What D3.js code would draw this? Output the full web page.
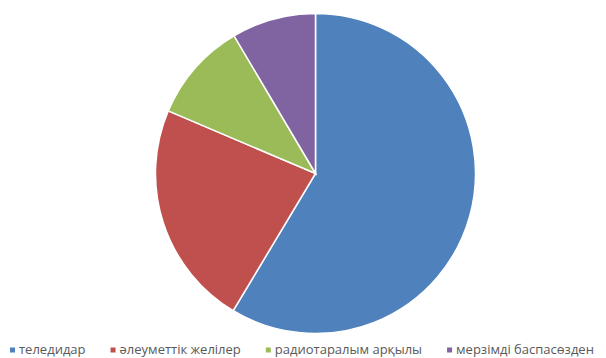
<!DOCTYPE html>
<html lang="kk">
<head>
<meta charset="UTF-8">
<title>Pie</title>
<script src="https://d3js.org/d3.v7.min.js"></script>
<style>
  html, body { margin: 0; padding: 0; background: #fff; }
  svg { display: block; }
  .legend text { font-family: "Open Sans", sans-serif; font-size: 13px; fill: #595959; }
</style>
</head>
<body>
<svg id="chart" width="606" height="358"></svg>
<script>
const categories = ["теледидар", "әлеуметтік желілер", "радиотаралым арқылы", "мерзімді баспасөзден"];
const values = [58.6, 22.8, 10.1, 8.5];
const colors = ["#4F81BD", "#C0504D", "#9BBB59", "#8064A2"];

const svg = d3.select("#chart");
const cx = 315.5, cy = 173.5, radius = 160;

const pie = d3.pie().sort(null).value(d => d.value);
const arc = d3.arc().innerRadius(0).outerRadius(radius);
const rows = categories.map((c, i) => ({ name: c, value: values[i], color: colors[i] }));

svg.append("g")
   .attr("transform", `translate(${cx},${cy})`)
   .selectAll("path")
   .data(pie(rows))
   .join("path")
   .attr("d", arc)
   .attr("fill", d => d.data.color)
   .attr("stroke", "#fff")
   .attr("stroke-width", 1.5);

// legend, laid out left to right
const legend = svg.append("g").attr("class", "legend");
let x = 10;
const gap = 25;
rows.forEach(r => {
  const g = legend.append("g").attr("transform", `translate(${x},0)`);
  g.append("rect").attr("x", 0).attr("y", 347.5).attr("width", 5).attr("height", 5).attr("fill", r.color);
  const t = g.append("text").attr("x", 9).attr("y", 354).text(r.name);
  x += 9 + t.node().getComputedTextLength() + gap;
});
</script>
</body>
</html>
